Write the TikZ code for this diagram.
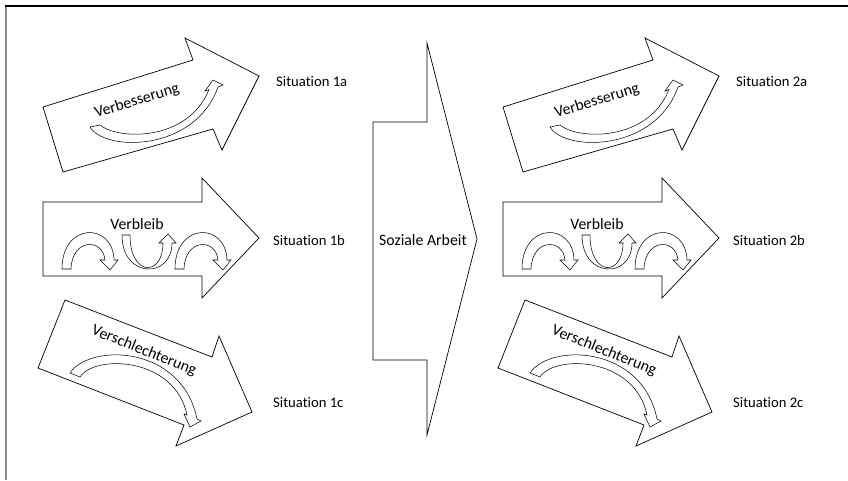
\documentclass[tikz,border=0pt]{standalone}
\usepackage{fontspec}
\setmainfont[RawFeature={-liga;-clig;-calt;-dlig;-ccmp}]{Carlito}
\usetikzlibrary{positioning}

\begin{document}
\begin{tikzpicture}[x=0.03cm,y=-0.03cm,
	block/.style={draw,line width=0.6pt,fill=white,line join=miter},
	curl/.style={draw,line width=0.45pt,fill=white,line join=miter},
	lbl/.style={font=\fontsize{13.5}{15}\selectfont,inner sep=0pt},
	sit/.style={font=\fontsize{12.5}{14}\selectfont,anchor=west,inner sep=0pt}]
		\useasboundingbox (0,0) rectangle (848,480);
		\draw[gray!90,line width=1.6pt] (6,6) -- (6,480);
		\draw[line width=0.9pt] (5,6) -- (848,6);

		% middle arrow
		\draw[block] (373,122) -- (427,122) -- (427,43) -- (477,239) -- (427,435) -- (427,360) -- (373,360) -- cycle;
		\node[lbl] (sa) at (423,240) {Soziale Arbeit};

		\foreach \col/\dx in {1/0,2/460}{
		\begin{scope}[shift={(\dx,0)}]
			% a
			\draw[block] (43,107) -- (193,60) -- (185,38) -- (259,76) -- (222,150) -- (213,129) -- (63,172) -- cycle;
			\draw[curl] (90,127) .. controls (105,152) and (195,152) .. (218,87) -- (223,85) -- (213,80) -- (205,91) -- (209,89.5) .. controls (188,142) and (118,140) .. (100,125) -- cycle;
			\node[lbl,rotate=17] (v\col a) at (137,101) {Verbesserung};
			\node[sit] (s\col a) at (276,82) {Situation \col a};
			% b
			\draw[block] (43,202) -- (202,202) -- (202,178) -- (259,238) -- (202,298) -- (202,276) -- (43,276) -- cycle;
			\foreach \ax in {0,113}
				\draw[curl,shift={(\ax,0)}] (62,269) .. controls (62,222) and (113,222) .. (114,260) -- (118,260) -- (110,270) -- (100,260) -- (105,260) .. controls (103,238) and (72,238) .. (71,269) -- cycle;
			\draw[curl] (122,235) .. controls (122,279) and (172,279) .. (172,243) -- (176,243) -- (168,234) -- (159,243) -- (163,243) .. controls (163,277) and (130,277) .. (130,235) -- cycle;
			\node[lbl] (v\col b) at (137,224) {Verbleib};
			\node[sit] (s\col b) at (273,240) {Situation \col b};
			% c
			\draw[block] (65,300) -- (212,357) -- (219,336) -- (252,412) -- (176,446) -- (184,425) -- (38,368) -- cycle;
			\draw[curl] (70,373) .. controls (90,343) and (182,345) .. (197,419) -- (201,421) -- (190,427) -- (184,414) -- (187,415) .. controls (175,357) and (95,354) .. (80,377) -- cycle;
			\node[lbl,rotate=-22] (v\col c) at (144,351) {Verschlechterung};
			\node[sit] (s\col c) at (273,403) {Situation \col c};
		\end{scope}
		}
	\end{tikzpicture}
\end{document}
